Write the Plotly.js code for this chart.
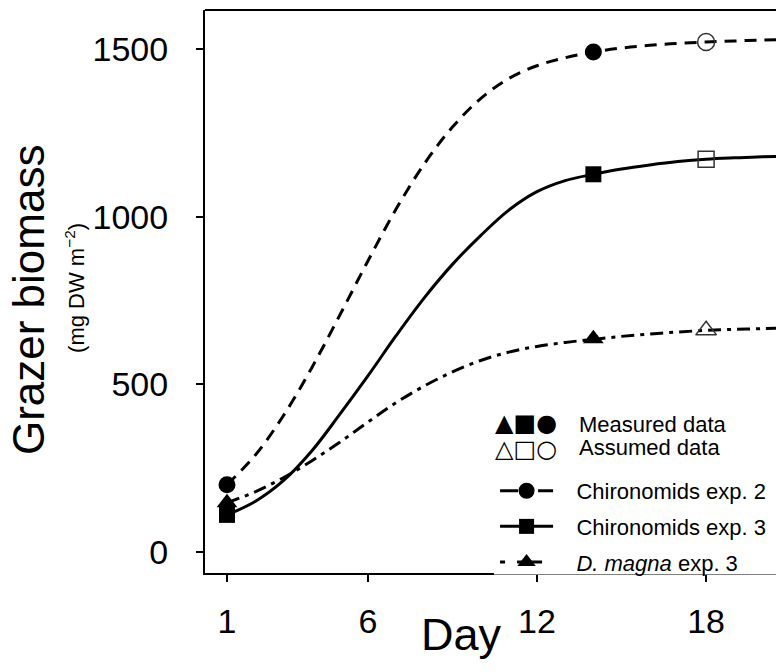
<!DOCTYPE html>
<html><head><meta charset="utf-8">
<script src="https://cdn.plot.ly/plotly-3.0.1.min.js"></script>
<style>html,body{margin:0;padding:0;background:#fff}#chart{width:776px;height:672px}</style>
</head><body><div id="chart"></div>
<script>
// ---- data ----
const curveDays   = [1,2,3,4,5,6,7,8,9,10,11,12,13,14,15,16,17,18,19,20,21];
const chiro2Curve = [200,288,406,548,706,868,1023,1158,1268,1353,1413,1451,1475,1492,1504,1512,1518,1522,1525,1528,1530];
const chiro3Curve = [110,150,212,300,410,525,645,758,858,944,1020,1075,1108,1127,1143,1155,1165,1172,1176,1179,1181];
const magnaCurve  = [146,179,221,271,327,387,445,495,537,571,596,613,625,634,643,650,656,661,664,666,668];

const measuredDays   = [1,14];
const chiro2Measured = [200,1492];
const chiro3Measured = [110,1127];
const magnaMeasured  = [146,636];

const assumedDays   = [18];
const chiro2Assumed = [1522];
const chiro3Assumed = [1172];
const magnaAssumed  = [661];

const seriesNames = ['Chironomids exp. 2','Chironomids exp. 3','<i>D. magna</i> exp. 3'];
const xTicks = [1,6,12,18];
const yTicks = [0,500,1000,1500];

// ---- styles ----
const dashes  = ['12px,8px','solid','13px,6px,4px,6px'];
const legendDashes = ['18px,20px,15px,40px','solid','5px,12px,25px,20px'];
const symbols = ['circle','square','triangle-up'];
const sizes   = [17,16,18];
const legendSizes = [16,15,16];
const curves  = [chiro2Curve, chiro3Curve, magnaCurve];
const measured = [chiro2Measured, chiro3Measured, magnaMeasured];
const assumed  = [chiro2Assumed, chiro3Assumed, magnaAssumed];

const traces = [];
for (let i = 0; i < 3; i++) {
  traces.push({x: curveDays, y: curves[i], type:'scatter', mode:'lines', showlegend:false,
    line:{color:'black', width:3, dash:dashes[i], shape:'spline', smoothing:1}, hoverinfo:'skip'});
}
for (let i = 0; i < 3; i++) {
  traces.push({x: assumedDays, y: assumed[i], type:'scatter', mode:'markers', showlegend:false,
    marker:{symbol:symbols[i]+'-open', size:sizes[i], color:'#333', line:{color:'#333', width:1.5}}});
}
for (let i = 2; i >= 0; i--) {
  traces.push({x: measuredDays, y: measured[i], type:'scatter', mode:'markers', showlegend:false,
    marker:{symbol:symbols[i], size:sizes[i], color:'black'}});
}
// legend entries
const pad = '\u00a0\u00a0\u00a0';
for (let i = 0; i < 3; i++) {
  traces.push({x:[null], y:[null], type:'scatter', mode:'lines+markers', name: pad + seriesNames[i],
    legendgroup:'g'+i,
    line:{color:'black', width:3, dash:legendDashes[i]},
    marker:{symbol:symbols[i], size:legendSizes[i], color:'black'}});
}

const fontFam = 'Liberation Sans, Arial, Helvetica, sans-serif';
const axisCommon = {showline:true, linewidth:2, linecolor:'black', ticks:'outside', ticklen:7,
  tickwidth:2, tickcolor:'black', showgrid:false, zeroline:false, tickfont:{size:34, color:'black'}};

const row1 = (573 - 437.5) / 563;
const row2 = (573 - 434) / 563;

const layout = {
  width:776, height:672,
  margin:{l:205, r:0, t:10, b:99, pad:0},
  paper_bgcolor:'white', plot_bgcolor:'white',
  font:{family:fontFam, color:'black'},
  showlegend:true,
  xaxis:Object.assign({}, axisCommon, {range:[0.22,20.48], tickmode:'array', tickvals:xTicks, ticklabelstandoff:10}),
  yaxis:Object.assign({}, axisCommon, {range:[-63.5,1617.5], tickmode:'array', tickvals:yTicks, ticklabelstandoff:21}),
  legend:{x:0.508, y:0.183, xanchor:'left', yanchor:'top', bgcolor:'rgba(0,0,0,0)',
    font:{size:22, family:fontFam}, itemwidth:53, tracegroupgap:4},
  shapes:[
    {type:'line', xref:'paper', yref:'paper', x0:0, x1:1.01, y0:1, y1:1, line:{color:'black', width:2}},
    {type:'rect', xref:'paper', yref:'paper', x0:0.506, x1:1.01, y0:-0.0025, y1:0.30,
      fillcolor:'white', line:{width:0}, layer:'above'}
  ],
  annotations:[
    {text:'Grazer biomass', xref:'paper', yref:'paper', x:-0.308, y:0.485, textangle:-90,
      showarrow:false, font:{size:44}, xanchor:'center', yanchor:'middle'},
    {text:'(mg DW m<sup>\u22122</sup>)', xref:'paper', yref:'paper', x:-0.228, y:0.506, textangle:-90,
      showarrow:false, font:{size:22}, xanchor:'center', yanchor:'middle'},
    {text:'Day', xref:'paper', yref:'paper', x:0.45, y:-0.11, showarrow:false, font:{size:45},
      xanchor:'center', yanchor:'middle'},
    {text:'\u25B2\u25A0\u25CF', xref:'paper', yref:'paper', x:0.562, y:row1, showarrow:false,
      font:{size:24, family:'DejaVu Sans'}, xanchor:'center', yanchor:'bottom', borderpad:0},
    {text:'\u25B3\u25A1\u25CB', xref:'paper', yref:'paper', x:0.562, y:row2, showarrow:false,
      font:{size:24, family:'DejaVu Sans'}, xanchor:'center', yanchor:'top', borderpad:0},
    {text:'Measured data', xref:'paper', yref:'paper', x:0.653, y:row1, showarrow:false,
      font:{size:22}, xanchor:'left', yanchor:'bottom', borderpad:0},
    {text:'Assumed data', xref:'paper', yref:'paper', x:0.653, y:row2, showarrow:false,
      font:{size:22}, xanchor:'left', yanchor:'top', borderpad:0}
  ]
};

Plotly.newPlot('chart', traces, layout, {displayModeBar:false, staticPlot:true});
</script></body></html>
